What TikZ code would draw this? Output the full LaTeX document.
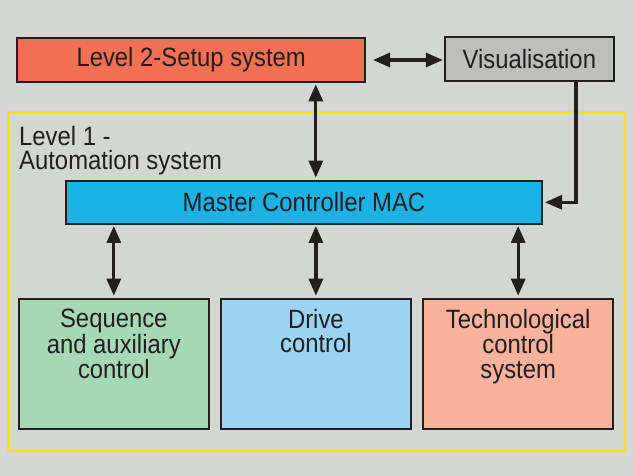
\documentclass[tikz,border=0pt]{standalone}
\usepackage{fontspec}
\setmainfont{Liberation Sans}[FakeStretch=0.9]
\usetikzlibrary{arrows.meta}
\definecolor{bg}{HTML}{D4D6D1}
\definecolor{lvtwo}{HTML}{F37055}
\definecolor{vis}{HTML}{BEBEBC}
\definecolor{mac}{HTML}{1BB3E6}
\definecolor{seq}{HTML}{A6D8B5}
\definecolor{drv}{HTML}{9DD3F2}
\definecolor{tech}{HTML}{F9B29B}
\definecolor{frameyellow}{HTML}{FFE000}
\definecolor{ink}{HTML}{231F20}
\tikzset{
  box/.style={draw=ink, line width=2pt, inner sep=0pt},
  txt/.style={text=ink, font=\fontsize{26.5}{24.5}\selectfont, inner sep=0pt},
  conn/.style={draw=ink, line width=3.2pt},
  dbl/.style={conn, {Triangle[length=17pt,width=14pt]}-{Triangle[length=17pt,width=14pt]}},
  single/.style={conn, -{Triangle[length=17pt,width=14pt]}},
}
\begin{document}
\begin{tikzpicture}[x=1pt,y=-1pt]
\fill[bg] (0,0) rectangle (634,476);
\useasboundingbox (0,0) rectangle (634,476);
% yellow frame
\draw[frameyellow, line width=1.6pt] (8,112.3) rectangle (624.7,450.7);
% top boxes
\node[box, fill=lvtwo, minimum width=347.6pt, minimum height=44.6pt, txt] (l2) at (191.2,60) {Level 2-Setup system};
\node[box, fill=vis, minimum width=169pt, minimum height=44.6pt, txt] (vis) at (529.3,59) {Visualisation};
% level 1 label
\node[txt, anchor=north west, align=left] (l1) at (19,126) {Level 1 -\\Automation system};
% master controller
\node[box, fill=mac, minimum width=476pt, minimum height=43.3pt, txt] (mac) at (304,202.3) {Master Controller MAC};
% bottom boxes
\node[box, fill=seq, minimum width=190.4pt, minimum height=130.3pt] (b1) at (113.8,363.85) {};
\node[box, fill=drv, minimum width=190.2pt, minimum height=130.3pt] (b2) at (315.9,363.85) {};
\node[box, fill=tech, minimum width=190.4pt, minimum height=130.3pt] (b3) at (518.2,363.85) {};
\node[txt, anchor=north, align=center] (t1) at ([yshift=-11pt]b1.north) {Sequence\\and auxiliary\\control};
\node[txt, anchor=north, align=center] (t2) at ([yshift=-11pt]b2.north) {Drive\\control};
\node[txt, anchor=north, align=center] (t3) at ([yshift=-11pt]b3.north) {Technological\\control\\system};
% connectors
\draw[dbl, shorten <=7pt, shorten >=1pt] (l2.east) -- (l2.east -| vis.west);
\draw[dbl, shorten <=1pt, shorten >=2pt] (l2.south -| 315.8,0) -- (mac.north -| 315.8,0);
\coordinate (vturn) at (576,202.3);
\draw[single, shorten >=2pt] (vis.south -| vturn) -- (vturn) -- (mac.east);
\draw[dbl, shorten <=1pt, shorten >=2pt] (mac.south -| b1.north) -- (b1.north);
\draw[dbl, shorten <=1pt, shorten >=2pt] (mac.south -| b2.north) -- (b2.north);
\draw[dbl, shorten <=1pt, shorten >=2pt] (mac.south -| b3.north) -- (b3.north);
\end{tikzpicture}
\end{document}
